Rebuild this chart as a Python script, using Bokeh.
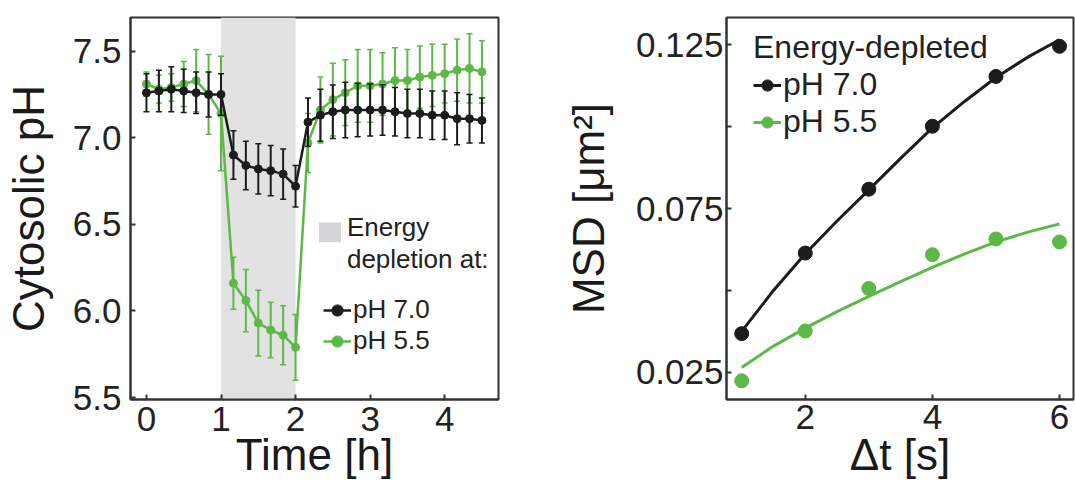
from bokeh.plotting import figure
from bokeh.layouts import row
from bokeh.models import (Range1d, FixedTicker, BoxAnnotation, Legend, LegendItem, Label,
                          PrintfTickFormatter)
from bokeh.embed import file_html
from bokeh.resources import INLINE

FONT = "Liberation Sans"
BLACK = "#1c1c1c"
GREEN = "#5cb847"
FRAME = "#333333"

# ---------------- data: left panel (cytosolic pH over time) ----------------
time_min = [0, 10, 20, 30, 40, 50, 60, 70, 80, 90, 100, 110, 120, 130, 140,
            150, 160, 170, 180, 190, 200, 210, 220, 230, 240, 250, 260, 270]
ph70 = [7.26, 7.27, 7.28, 7.27, 7.26, 7.25, 7.25, 6.90, 6.84, 6.82, 6.81, 6.79,
        6.72, 7.09, 7.13, 7.15, 7.16, 7.16, 7.16, 7.16, 7.15, 7.14, 7.14, 7.13,
        7.13, 7.11, 7.11, 7.10]
ph70_err = [0.11, 0.12, 0.13, 0.125, 0.12, 0.13, 0.12, 0.14, 0.14, 0.145, 0.145,
            0.145, 0.12, 0.14, 0.15, 0.155, 0.16, 0.155, 0.15, 0.146, 0.14, 0.14,
            0.14, 0.14, 0.14, 0.15, 0.14, 0.13]
ph55 = [7.31, 7.28, 7.29, 7.31, 7.33, 7.25, 7.14, 6.16, 6.06, 5.93, 5.89, 5.86,
        5.79, 6.97, 7.16, 7.22, 7.26, 7.30, 7.30, 7.31, 7.33, 7.33, 7.35, 7.36,
        7.37, 7.39, 7.40, 7.38]
ph55_err = [0.07, 0.08, 0.08, 0.13, 0.18, 0.23, 0.33, 0.15, 0.18, 0.19, 0.16,
            0.17, 0.19, 0.17, 0.19, 0.21, 0.19, 0.21, 0.21, 0.18, 0.19, 0.18,
            0.18, 0.18, 0.17, 0.18, 0.20, 0.18]
depletion_start_h = 1.0
depletion_end_h = 2.0
ph_ticks = [5.5, 6.0, 6.5, 7.0, 7.5]
time_ticks = [0, 1, 2, 3, 4]

# ---------------- data: right panel (MSD vs lag time) ----------------
dt_s = [1, 2, 3, 4, 5, 6]
msd70 = [0.0368, 0.0614, 0.0809, 0.1001, 0.1153, 0.1245]
msd55 = [0.0224, 0.0376, 0.0506, 0.0609, 0.0657, 0.0648]
fit_dt = [1, 1.5, 2, 2.5, 3, 3.5, 4, 4.5, 5, 5.5, 6]
fit70 = [0.0375, 0.0500, 0.0612, 0.0712, 0.0807, 0.0903, 0.0996, 0.1076, 0.1150, 0.1212, 0.1265]
fit55 = [0.0265, 0.0330, 0.0385, 0.0435, 0.0482, 0.0527, 0.0570, 0.0611, 0.0648, 0.0678, 0.0703]
msd_major = [0.025, 0.075, 0.125]
msd_minor = [0.05, 0.1]
dt_ticks = [2, 4, 6]


def style(p, xt, yt, yminor=None):
    p.xgrid.visible = False
    p.ygrid.visible = False
    p.outline_line_color = FRAME
    p.outline_line_width = 2
    p.outline_line_alpha = 1
    p.background_fill_color = "white"
    p.border_fill_color = "white"
    p.xaxis.ticker = FixedTicker(ticks=xt)
    p.yaxis.ticker = FixedTicker(ticks=yt, minor_ticks=yminor or [])
    for ax in (p.xaxis[0], p.yaxis[0]):
        ax.axis_line_color = FRAME
        ax.axis_line_width = 2
        ax.major_tick_in = 5
        ax.major_tick_out = 0
        ax.minor_tick_in = 5 if yminor else 0
        ax.minor_tick_out = 0
        ax.major_tick_line_color = FRAME
        ax.major_tick_line_width = 2
        ax.minor_tick_line_color = FRAME
        ax.minor_tick_line_width = 2
        ax.major_label_text_font = FONT
        ax.major_label_text_font_size = "35px"
        ax.major_label_text_color = "#222222"
        ax.axis_label_text_font = FONT
        ax.axis_label_text_font_size = "44px"
        ax.axis_label_text_font_style = "normal"
        ax.axis_label_text_color = "#1a1a1a"
    p.xaxis[0].minor_tick_in = 0


# ---------------- left panel ----------------
hours = [m / 60 for m in time_min]
p1 = figure(width=560, height=490, output_backend="svg", toolbar_location=None, title=None,
            x_range=Range1d(-0.214, 4.722), y_range=Range1d(5.489, 7.694),
            min_border_left=129, min_border_right=62, min_border_top=5, min_border_bottom=91)
style(p1, time_ticks, ph_ticks)
p1.yaxis.formatter = PrintfTickFormatter(format="%.1f")
p1.xaxis.axis_label = "Time [h]"
p1.yaxis.axis_label = "Cytosolic pH"
p1.xaxis.major_label_standoff = 7
p1.yaxis.major_label_standoff = 9
p1.xaxis.axis_label_standoff = -4
p1.yaxis.axis_label_standoff = 17

p1.add_layout(BoxAnnotation(left=depletion_start_h, right=depletion_end_h,
                            fill_color="#e2e2e2", fill_alpha=1, line_color=None,
                            level="underlay"))

def series(p, y, err, color, lw, size):
    lo = [a - e for a, e in zip(y, err)]
    hi = [a + e for a, e in zip(y, err)]
    p.segment(x0=hours, y0=lo, x1=hours, y1=hi, line_color=color, line_width=2)
    p.scatter(x=hours + hours, y=lo + hi, marker="dash", size=6, line_color=color, line_width=1.5)
    ln = p.line(x=hours, y=y, line_color=color, line_width=lw)
    sc = p.scatter(x=hours, y=y, size=size, fill_color=color, line_color=color)
    return ln, sc

gl, gs = series(p1, ph55, ph55_err, GREEN, 2.5, 8)
bl, bs = series(p1, ph70, ph70_err, BLACK, 2.5, 8)

# legend box and text
p1.add_layout(BoxAnnotation(left=2.314, right=2.609, bottom=6.397, top=6.511,
                            fill_color="#d4d4d6", fill_alpha=1, line_color=None))
p1.add_layout(Label(x=2.689, y=6.397, text="Energy", text_font=FONT,
                    text_font_size="26px", text_color="#222222"))
p1.add_layout(Label(x=2.689, y=6.214, text="depletion at:", text_font=FONT,
                    text_font_size="26px", text_color="#222222"))
leg1 = Legend(items=[LegendItem(label="pH 7.0", renderers=[bl, bs]),
                     LegendItem(label="pH 5.5", renderers=[gl, gs])],
              location=(193, 43), padding=0, margin=0, spacing=0,
              label_text_font=FONT, label_text_font_size="26px",
              label_text_color="#222222", glyph_width=28, glyph_height=28,
              label_height=28, label_standoff=2,
              border_line_color=None, background_fill_alpha=0)
p1.add_layout(leg1)

# ---------------- right panel ----------------
p2 = figure(width=515, height=490, output_backend="svg", toolbar_location=None, title=None,
            x_range=Range1d(0.761, 6.22), y_range=Range1d(0.0167, 0.1333),
            min_border_left=165, min_border_right=2, min_border_top=17, min_border_bottom=91)
style(p2, dt_ticks, msd_major, msd_minor)
p2.yaxis.formatter = PrintfTickFormatter(format="%.3f")
p2.xaxis.axis_label = "Δt [s]"
p2.yaxis.axis_label = "MSD [μm²]"
p2.xaxis.major_label_standoff = 5
p2.yaxis.major_label_standoff = 3
p2.xaxis.axis_label_standoff = -2
p2.yaxis.axis_label_standoff = 20

fl7 = p2.line(x=fit_dt, y=fit70, line_color=BLACK, line_width=3)
fl5 = p2.line(x=fit_dt, y=fit55, line_color=GREEN, line_width=3)
ps7 = p2.scatter(x=dt_s, y=msd70, size=14, fill_color=BLACK, line_color=BLACK)
ps5 = p2.scatter(x=dt_s, y=msd55, size=14, fill_color=GREEN, line_color=GREEN)

leg2 = Legend(items=[LegendItem(label="pH 7.0", renderers=[fl7, ps7]),
                     LegendItem(label="pH 5.5", renderers=[fl5, ps5])],
              title="Energy-depleted", title_text_font=FONT, title_text_font_size="32px",
              title_text_font_style="normal", title_text_color="#222222", title_standoff=0,
              location=(27, 259), padding=0, margin=0, spacing=0,
              label_text_font=FONT, label_text_font_size="32px",
              label_text_color="#222222", glyph_width=28, glyph_height=30,
              label_height=30, label_standoff=2,
              border_line_color=None, background_fill_alpha=0)
p2.add_layout(leg2)

layout = row(p1, p2)
open("out.html", "w").write(file_html(layout, INLINE))
